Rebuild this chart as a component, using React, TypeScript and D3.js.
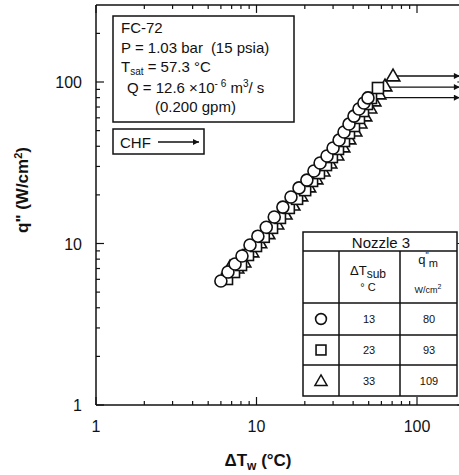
import React from "react";
import * as d3 from "d3";

// ---- data ----
const circleX = [6.0, 6.64, 7.35, 8.12, 9.11, 10.2, 11.5, 12.9, 14.6, 16.4, 18.4, 20.6, 22.8, 24.9, 27.5, 30.0, 32.7, 35.1, 37.7, 40.5, 43.5, 46.7, 49.5];
const circleY = [5.86, 6.66, 7.47, 8.37, 9.79, 11.1, 12.6, 14.6, 16.8, 19.4, 22.1, 24.7, 28.1, 31.5, 34.8, 39.0, 43.7, 49.0, 54.9, 61.5, 68.0, 74.1, 79.7];

const squareX = [6.55, 7.24, 8.01, 8.85, 9.93, 11.1, 12.5, 14.0, 15.9, 17.9, 20.1, 22.2, 24.5, 27.1, 29.5, 32.2, 35.1, 37.7, 40.5, 43.5, 46.1, 48.8, 51.7, 57.1];
const squareY = [6.03, 6.66, 7.36, 8.49, 9.65, 11.0, 12.5, 14.4, 16.6, 18.9, 21.4, 24.4, 27.3, 30.6, 34.3, 38.5, 43.1, 48.3, 53.4, 59.9, 66.1, 73.1, 79.6, 91.8];

const triX = [6.84, 7.56, 8.36, 9.37, 10.5, 11.8, 13.4, 15.1, 16.9, 18.9, 21.2, 23.5, 26.0, 28.7, 31.7, 34.6, 37.7, 41.1, 44.2, 47.4, 50.9, 54.0, 58.0, 63.2, 70.9];
const triY = [7.15, 7.05, 7.68, 8.86, 10.1, 11.5, 13.2, 15.2, 17.3, 19.7, 22.4, 25.1, 28.1, 31.5, 35.3, 39.6, 44.4, 49.7, 55.7, 61.6, 69.0, 76.3, 84.3, 94.5, 109];

const chfQ = [80, 93, 109];
const chfStart = [52, 59, 74];
const chfEnd = 185;

const subcooling = ["13", "23", "33"];
const qmLabels = ["80", "93", "109"];

const xMajor = [1, 10, 100];
const yMajor = [1, 10, 100];
const xMinor = [2, 3, 4, 5, 6, 7, 8, 9, 20, 30, 40, 50, 60, 70, 80, 90, 200];
const yMinor = [2, 3, 4, 5, 6, 7, 8, 9, 20, 30, 40, 50, 60, 70, 80, 90, 200];

const FONT = "'Liberation Sans', Arial, Helvetica, sans-serif";

export default function App() {
  const x = d3.scaleLog().domain([1, 200]).range([96, 96 + Math.log10(200) * 160.5]);
  const y = d3.scaleLog().domain([1, 300]).range([405, 405 - Math.log10(300) * 161.5]);
  const [x0, x1] = x.range();
  const [y0, y1] = y.range();

  const circles = circleX.map((v, i) => ({ x: v, y: circleY[i] }));
  const squares = squareX.map((v, i) => ({ x: v, y: squareY[i] }));
  const tris = triX.map((v, i) => ({ x: v, y: triY[i] }));
  const triPath = d3.symbol().type(d3.symbolTriangle).size(80)();

  const drawMarker = (kind: string, cx: number, cy: number, key: string | number, scale = 1) => {
    if (kind === "circle")
      return <circle key={key} cx={cx} cy={cy} r={6 * scale} fill="#fff" stroke="#111" strokeWidth={1.6} />;
    if (kind === "square")
      return <rect key={key} x={cx - 5.5 * scale} y={cy - 5.5 * scale} width={11 * scale} height={11 * scale} fill="#fff" stroke="#111" strokeWidth={1.6} />;
    return <path key={key} d={triPath!} transform={`translate(${cx},${cy + 1}) scale(${scale})`} fill="#fff" stroke="#111" strokeWidth={1.6} />;
  };

  // table geometry
  const tL = 303, tR = 457, tT = 232, tB = 396;
  const c1 = 339, c2 = 400;
  const rH1 = 251, rH2 = 303, r1 = 335, r2 = 365;
  const rowCenters = [319, 350, 381];
  const kinds = ["circle", "square", "tri"];

  return (
    <svg width={459} height={475} style={{ position: "absolute", left: 0, top: 0, background: "#fff" }} fontFamily={FONT}>
      <defs>
        <marker id="ah" viewBox="0 0 10 10" refX="10" refY="5" markerWidth="8" markerHeight="6" orient="auto" markerUnits="userSpaceOnUse">
          <path d="M0,0 L10,5 L0,10 z" fill="#111" />
        </marker>
        <marker id="ah2" viewBox="0 0 10 10" refX="10" refY="5" markerWidth="10" markerHeight="6" orient="auto" markerUnits="userSpaceOnUse">
          <path d="M0,0 L10,5 L0,10 z" fill="#111" />
        </marker>
      </defs>

      {/* axes frame */}
      <g stroke="#111" strokeWidth={1.5} fill="none">
        <line x1={x0} y1={y0} x2={x1} y2={y0} />
        <line x1={x0} y1={y1} x2={x1} y2={y1} />
        <line x1={x0} y1={y0} x2={x0} y2={y1} />
        <line x1={x1} y1={y0} x2={x1} y2={y1} />
      </g>
      {/* ticks */}
      <g stroke="#111" strokeWidth={1.2}>
        {xMajor.map((v) => (
          <g key={"xm" + v}>
            <line x1={x(v)} x2={x(v)} y1={y0} y2={y0 - 8} />
            <line x1={x(v)} x2={x(v)} y1={y1} y2={y1 + 8} />
          </g>
        ))}
        {xMinor.map((v) => (
          <g key={"xn" + v}>
            <line x1={x(v)} x2={x(v)} y1={y0} y2={y0 - 4} />
            <line x1={x(v)} x2={x(v)} y1={y1} y2={y1 + 4} />
          </g>
        ))}
        {yMajor.map((v) => (
          <g key={"ym" + v}>
            <line x1={x0} x2={x0 + 8} y1={y(v)} y2={y(v)} />
            <line x1={x1} x2={x1 - 8} y1={y(v)} y2={y(v)} />
          </g>
        ))}
        {yMinor.map((v) => (
          <g key={"yn" + v}>
            <line x1={x0} x2={x0 + 4} y1={y(v)} y2={y(v)} />
          </g>
        ))}
      </g>

      {/* tick labels */}
      <g fontSize={16} fill="#111">
        {xMajor.map((v) => (
          <text key={"xl" + v} x={x(v)} y={y0 + 27} textAnchor="middle">{v}</text>
        ))}
        {yMajor.map((v) => (
          <text key={"yl" + v} x={x0 - 14} y={y(v) + 6} textAnchor="end">{v}</text>
        ))}
      </g>

      {/* axis titles */}
      <text x={258} y={466} textAnchor="middle" fontSize={17} fontWeight="bold" fill="#111">
        ΔT<tspan fontSize={12} dy={4}>w</tspan><tspan dy={-4}> (°C)</tspan>
      </text>
      <text transform="translate(28,190) rotate(-90)" textAnchor="middle" fontSize={17} fontWeight="bold" fill="#111">
        q" (W/cm<tspan fontSize={11} dy={-6}>2</tspan><tspan dy={6}>)</tspan>
      </text>

      {/* CHF arrows */}
      <g stroke="#111" strokeWidth={1.4}>
        {chfQ.map((q, i) => (
          <line key={"chf" + i} x1={x(chfStart[i])} x2={x(chfEnd)} y1={y(q)} y2={y(q)} markerEnd="url(#ah)" />
        ))}
      </g>

      {/* data */}
      <g>{tris.map((d, i) => drawMarker("tri", x(d.x), y(d.y), "t" + i))}</g>
      <g>{squares.map((d, i) => drawMarker("square", x(d.x), y(d.y), "s" + i))}</g>
      <g>{circles.map((d, i) => drawMarker("circle", x(d.x), y(d.y), "c" + i))}</g>

      {/* info box */}
      <rect x={113} y={16} width={181} height={106} fill="#fff" stroke="#111" strokeWidth={1.5} />
      <g fontSize={15} fill="#111">
        <text x={121} y={33}>FC-72</text>
        <text x={121} y={53}>P = 1.03 bar<tspan dx={8}>(15 psia)</tspan></text>
        <text x={121} y={72}>T<tspan fontSize={10} dy={3}>sat</tspan><tspan dy={-3}> = 57.3 °C</tspan></text>
        <text x={127} y={93}>Q = 12.6 ×10<tspan fontSize={10} dy={-6}>- 6</tspan><tspan dy={6}> m</tspan><tspan fontSize={10} dy={-6}>3</tspan><tspan dy={6}>/ s</tspan></text>
        <text x={155} y={112}>(0.200 gpm)</text>
      </g>

      {/* CHF label box */}
      <rect x={113} y={129} width={91} height={25} fill="#fff" stroke="#111" strokeWidth={1.5} />
      <text x={120} y={148} fontSize={15} fill="#111">CHF</text>
      <line x1={158} x2={199} y1={142} y2={142} stroke="#111" strokeWidth={1.3} markerEnd="url(#ah2)" />

      {/* legend table */}
      <g stroke="#111" strokeWidth={1.5} fill="none">
        <rect x={tL} y={tT} width={tR - tL} height={tB - tT} fill="#fff" />
        <line x1={tL} x2={tR} y1={rH1} y2={rH1} />
        <line x1={tL} x2={tR} y1={rH2} y2={rH2} />
        <line x1={tL} x2={tR} y1={r1} y2={r1} />
        <line x1={tL} x2={tR} y1={r2} y2={r2} />
        <line x1={c1} x2={c1} y1={rH1} y2={tB} />
        <line x1={c2} x2={c2} y1={rH1} y2={tB} />
      </g>
      <g fill="#111">
        <text x={381} y={248} fontSize={15} textAnchor="middle">Nozzle 3</text>
        <text x={368} y={275} fontSize={13} textAnchor="middle">ΔT<tspan fontSize={12} dy={3}>sub</tspan></text>
        <text x={368} y={291} fontSize={11} textAnchor="middle">° C</text>
        <text x={428} y={264} fontSize={13} textAnchor="middle">q<tspan fontSize={9} dy={-6}>"</tspan><tspan fontSize={11} dy={9}>m</tspan></text>
        <text x={428} y={293} fontSize={9} textAnchor="middle">W/cm<tspan fontSize={7} dy={-4}>2</tspan></text>
        {rowCenters.map((cy, i) => (
          <g key={"row" + i}>
            <text x={369} y={cy + 4} fontSize={11} textAnchor="middle">{subcooling[i]}</text>
            <text x={429} y={cy + 4} fontSize={11} textAnchor="middle">{qmLabels[i]}</text>
          </g>
        ))}
      </g>
      <g>{rowCenters.map((cy, i) => drawMarker(kinds[i], 321, cy, "lg" + i, 0.9))}</g>
    </svg>
  );
}
